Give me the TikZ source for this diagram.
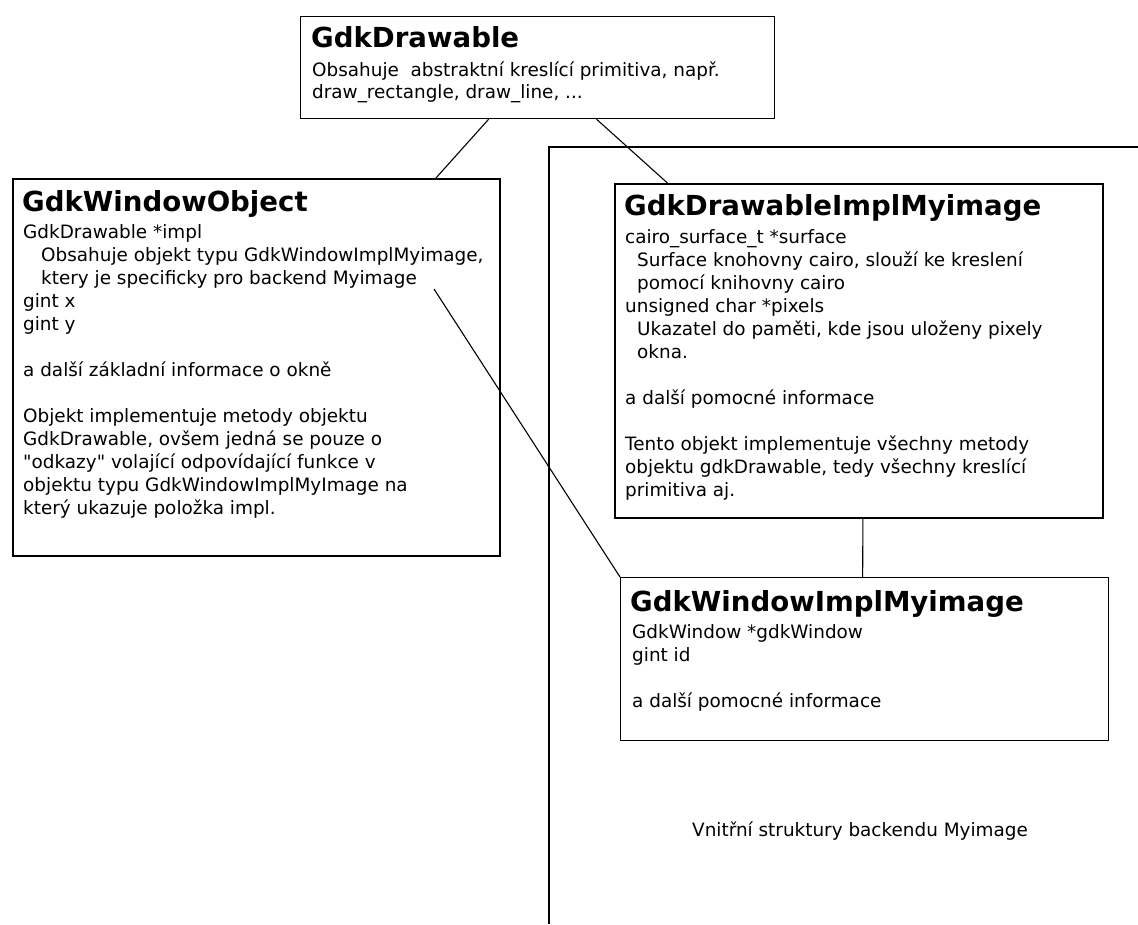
\documentclass[tikz,border=0pt]{standalone}
\usepackage{fontspec}
\setmainfont{DejaVu Sans}
% Same family without TeX ligature mapping, for straight quotes
\newfontfamily\rawfont{DejaVu Sans}
\usetikzlibrary{calc}

% Font settings for titles and member lists
\newcommand{\titlefont}{\fontsize{27.6}{32}\selectfont\bfseries}
\newcommand{\bodyfont}{\fontsize{18.4}{23}\selectfont}
\newcommand{\ind}{\hspace*{18pt}}
\newcommand{\indb}{\hspace*{12pt}}
\newcommand{\dq}{{\rawfont"}}

\tikzset{
  classbox/.style={draw, anchor=north west, inner sep=0pt, line width=#1},
  classbox/.default=1.2pt,
  title/.style={anchor=base west, inner sep=0pt, font=\titlefont},
  body/.style={anchor=base west, inner sep=0pt, font=\bodyfont},
  link/.style={line width=1.1pt},
}

\begin{document}
\begin{tikzpicture}[x=1pt, y=-1pt]
  \useasboundingbox (0,0) rectangle (1138,924);

  % Outline of the backend area
  \coordinate (areaBottom) at (549,924);
  \coordinate (areaCorner) at (549,147);
  \coordinate (areaRight) at (1138,147);
  \draw[line width=1.2pt] (areaBottom) -- (areaCorner) -- (areaRight);

  % Class boxes
  \node[classbox, minimum width=474pt, minimum height=102pt] (drawable) at (300,16) {};
  \node[classbox=2pt, minimum width=487pt, minimum height=377pt] (winobj) at (12,178) {};
  \node[classbox=2pt, minimum width=488pt, minimum height=334pt] (impl) at (614,183) {};
  \node[classbox, minimum width=488pt, minimum height=163pt] (winimpl) at (620,577) {};

  % GdkDrawable
  \node[title] (drawableTitle) at (311,47) {GdkDrawable};
  \node[body] (drawableBody) at (312,76) {\begin{tabular}[t]{@{}l@{}}
    Obsahuje\ \ abstraktní kreslící primitiva, např.\\[-1pt]
    draw\_rectangle, draw\_line, ...
  \end{tabular}};

  % GdkWindowObject
  \node[title] (winobjTitle) at (22,211) {GdkWindowObject};
  \node[body] (winobjBody) at (23,238) {\begin{tabular}[t]{@{}l@{}}
    GdkDrawable *impl\\
    \ind Obsahuje objekt typu GdkWindowImplMyimage,\\
    \ind ktery je specificky pro backend Myimage\\
    gint x\\
    gint y\\
    \\
    a další základní informace o okně\\
    \\
    Objekt implementuje metody objektu\\
    GdkDrawable, ovšem jedná se pouze o\\
    \dq odkazy\dq\ volající odpovídající funkce v\\
    objektu typu GdkWindowImplMyImage na\\
    který ukazuje položka impl.
  \end{tabular}};

  % GdkDrawableImplMyimage
  \node[title] (implTitle) at (624,215) {GdkDrawableImplMyimage};
  \node[body] (implBody) at (625,243) {\begin{tabular}[t]{@{}l@{}}
    cairo\_surface\_t *surface\\
    \indb Surface knohovny cairo, slouží ke kreslení\\
    \indb pomocí knihovny cairo\\
    unsigned char *pixels\\
    \indb Ukazatel do paměti, kde jsou uloženy pixely\\
    \indb okna.\\
    \\
    a další pomocné informace\\
    \\
    Tento objekt implementuje všechny metody\\
    objektu gdkDrawable, tedy všechny kreslící\\
    primitiva aj.
  \end{tabular}};

  % GdkWindowImplMyimage
  \node[title] (winimplTitle) at (630,611) {GdkWindowImplMyimage};
  \node[body] (winimplBody) at (632,638) {\begin{tabular}[t]{@{}l@{}}
    GdkWindow *gdkWindow\\
    gint id\\
    \\
    a další pomocné informace
  \end{tabular}};

  % Area label
  \node[anchor=base, inner sep=0pt, font=\bodyfont] (areaLabel) at (860,836)
    {Vnitřní struktury backendu Myimage};

  % Connectors
  \coordinate (implField) at (434,289);
  \draw[link] ($(drawable.south west)!0.397!(drawable.south east)$)
           -- ($(winobj.north west)!0.867!(winobj.north east)$);
  \draw[link] ($(drawable.south west)!0.624!(drawable.south east)$)
           -- ($(impl.north west)!0.109!(impl.north east)$);
  \draw[link] ($(impl.south west)!0.508!(impl.south east)$)
           -- ($(winimpl.north west)!0.496!(winimpl.north east)$);
  \draw[link] (implField) -- (winimpl.north west);
\end{tikzpicture}
\end{document}
